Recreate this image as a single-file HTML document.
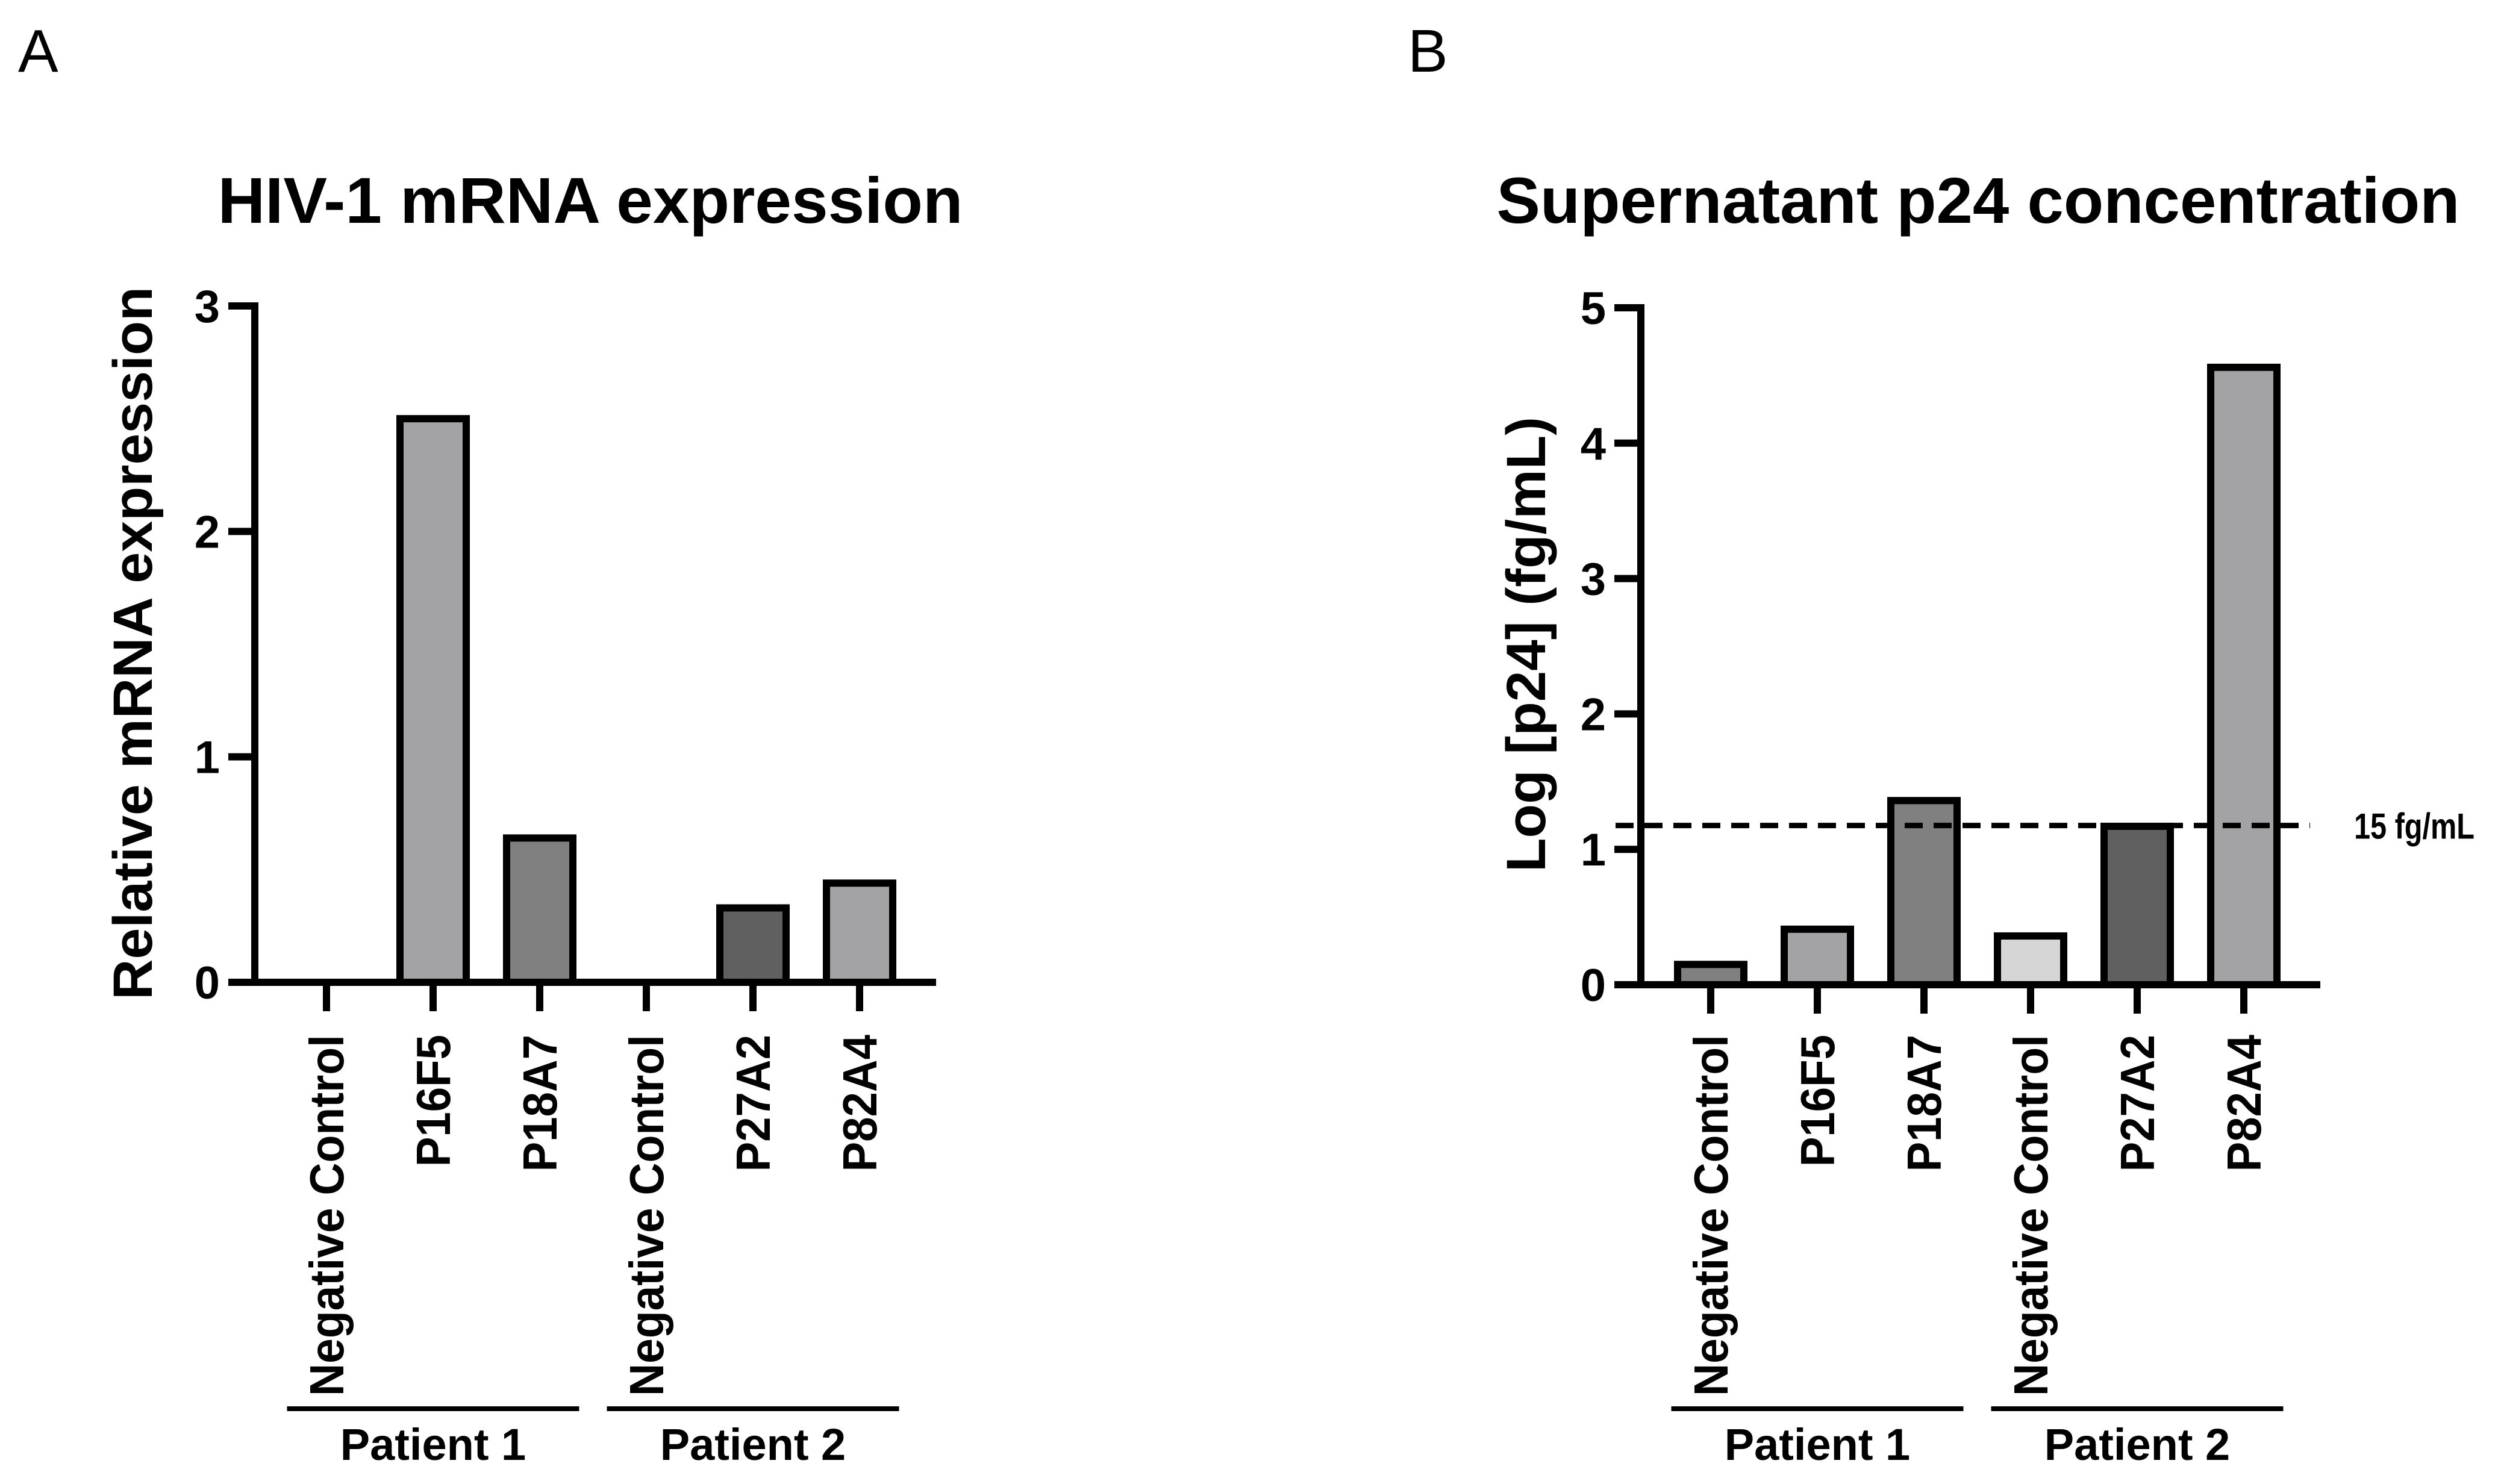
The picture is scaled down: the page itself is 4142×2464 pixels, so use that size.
<!DOCTYPE html>
<html><head><meta charset="utf-8"><style>
html,body{margin:0;padding:0;background:#fff}
svg text{font-family:"Liberation Sans",Arial,sans-serif;fill:#000}
</style></head><body>
<svg id="fig" width="4142" height="2459" viewBox="0 0 4142 2459" xmlns="http://www.w3.org/2000/svg">
<text x="30" y="119" font-size="100">A</text>
<text x="2337" y="119" font-size="100">B</text>
<text x="980" y="370" font-size="108" font-weight="bold" text-anchor="middle" textLength="1237" lengthAdjust="spacingAndGlyphs">HIV-1 mRNA expression</text>
<text x="3284" y="370" font-size="108" font-weight="bold" text-anchor="middle" textLength="1599" lengthAdjust="spacingAndGlyphs">Supernatant p24 concentration</text>
<text transform="translate(252,1068) rotate(-90)" font-size="92" font-weight="bold" text-anchor="middle" textLength="1184" lengthAdjust="spacingAndGlyphs">Relative mRNA expression</text>
<text transform="translate(2565,1070) rotate(-90)" font-size="92" font-weight="bold" text-anchor="middle" textLength="756" lengthAdjust="spacingAndGlyphs">Log [p24] (fg/mL)</text>
<g id="chartA"></g>
<g id="chartB"></g>
</svg>
<script>
const categoriesA = ["Negative Control","P16F5","P18A7","Negative Control","P27A2","P82A4"];
const valuesA = [0, 2.50, 0.64, 0, 0.33, 0.44];
const fillsA = ["#a3a3a6","#a3a3a6","#808080","#808080","#606060","#a3a3a6"];
const ticksA = [0,1,2,3];
const categoriesB = ["Negative Control","P16F5","P18A7","Negative Control","P27A2","P82A4"];
const valuesB = [0.15, 0.41, 1.36, 0.36, 1.17, 4.56];
const fillsB = ["#808080","#a3a3a6","#808080","#d6d6d6","#606060","#a3a3a6"];
const ticksB = [0,1,2,3,4,5];
const groups = ["Patient 1","Patient 2"];
const thresholdB = 1.176;
const thresholdLabel = "15 fg/mL";

const NS="http://www.w3.org/2000/svg";
function mk(parent,tag,attrs){const e=document.createElementNS(NS,tag);for(const k in attrs)e.setAttribute(k,attrs[k]);parent.appendChild(e);return e;}

function drawChart(g,cfg,cats,vals,fills,ticks,prefix){
  const yScale=v=>cfg.y0-(v/cfg.ymax)*(cfg.y0-cfg.ytop);
  const xScale=i=>cfg.x0+i*cfg.step;
  cats.forEach((c,i)=>{
    const v=vals[i]; if(v<=0) return;
    const cx=xScale(i), yt=yScale(v);
    const r=mk(g,"rect",{x:cx-cfg.bw/2,y:yt,width:cfg.bw,height:cfg.y0-yt,fill:fills[i],stroke:"#000","stroke-width":12});
    
    
  });
  const ya=mk(g,"line",{x1:cfg.ax,y1:cfg.ytop-6,x2:cfg.ax,y2:cfg.y0+6,stroke:"#000","stroke-width":12});
  
  
  ticks.forEach(t=>{
    const y=yScale(t);
    const tl=mk(g,"line",{x1:cfg.ax-44,y1:y,x2:cfg.ax,y2:y,stroke:"#000","stroke-width":12});
    
    
    const tx=mk(g,"text",{x:cfg.ax-58,y:y+27,"font-size":76,"font-weight":"bold","text-anchor":"end"});
    tx.textContent=t;
    
    
  });
  const xa=mk(g,"line",{x1:cfg.xaStart,y1:cfg.y0,x2:cfg.xaEnd,y2:cfg.y0,stroke:"#000","stroke-width":12});
  
  
  cats.forEach((c,i)=>{
    const cx=xScale(i);
    const tl=mk(g,"line",{x1:cx,y1:cfg.y0,x2:cx,y2:cfg.y0+48,stroke:"#000","stroke-width":12});
    
    
    const tx=mk(g,"text",{transform:`translate(${cx+28},1718) rotate(-90)`,"font-size":80,"font-weight":"bold","text-anchor":"end"});
    tx.textContent=c;
    
    
    const L=tx.getComputedTextLength();
    const target = c.length>10 ? 600 : L*0.93;
    tx.setAttribute("textLength", target);
    tx.setAttribute("lengthAdjust","spacingAndGlyphs");
  });
  groups.forEach((gname,k)=>{
    const a=xScale(k*3)-cfg.step*0.37, b=xScale(k*3+2)+cfg.step*0.37;
    const ln=mk(g,"line",{x1:a,y1:2339,x2:b,y2:2339,stroke:"#000","stroke-width":8});
    
    
    const tx=mk(g,"text",{x:(a+b)/2,y:2424,"font-size":74,"font-weight":"bold","text-anchor":"middle"});
    tx.textContent=gname;
    
    
  });
  return yScale;
}
const cfgA={ax:423,x0:542,step:177,bw:110,y0:1631,ytop:508,ymax:3,xaStart:423,xaEnd:1554};
const cfgB={ax:2724,x0:2840,step:177,bw:110,y0:1635,ytop:511,ymax:5,xaStart:2724,xaEnd:3852};
drawChart(document.getElementById("chartA"),cfgA,categoriesA,valuesA,fillsA,ticksA,"chart-a");
const gB=document.getElementById("chartB");
const yB=drawChart(gB,cfgB,categoriesB,valuesB,fillsB,ticksB,"chart-b");
const ty=yB(thresholdB);
const dl=mk(gB,"line",{x1:2682,y1:ty,x2:3835,y2:ty,stroke:"#000","stroke-width":9,"stroke-dasharray":"30 18"});


const dt=mk(gB,"text",{x:3908,y:ty+22,"font-size":60,"font-weight":"bold",textLength:"200",lengthAdjust:"spacingAndGlyphs"});
dt.textContent=thresholdLabel;


</script>
</body></html>
